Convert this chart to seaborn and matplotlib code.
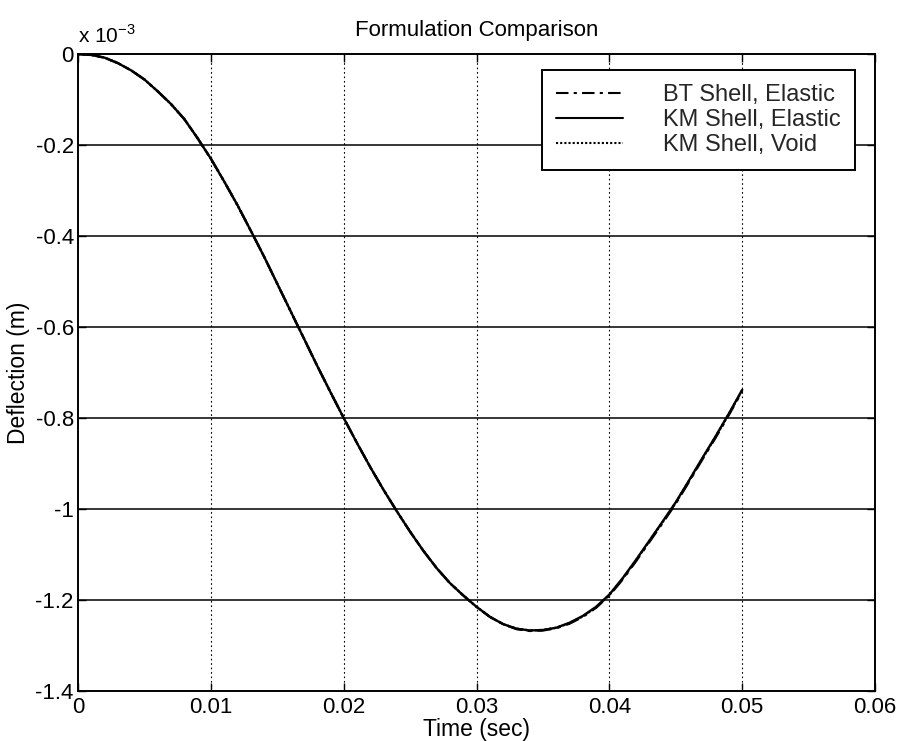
import numpy as np
import pandas as pd
import matplotlib
matplotlib.use("Agg")
import matplotlib.pyplot as plt
import seaborn as sns
from matplotlib.ticker import FixedLocator, FixedFormatter

# ---- data (deflection in units of 1e-3 m) ----
time_s = [0.000, 0.001, 0.002, 0.003, 0.004, 0.005, 0.006, 0.007, 0.008, 0.009,
          0.010, 0.011, 0.012, 0.013, 0.014, 0.015, 0.016, 0.017, 0.018, 0.019,
          0.020, 0.021, 0.022, 0.023, 0.024, 0.025, 0.026, 0.027, 0.028, 0.029,
          0.030, 0.031, 0.032, 0.033, 0.034, 0.035, 0.036, 0.037, 0.038, 0.039,
          0.040, 0.041, 0.042, 0.043, 0.044, 0.045, 0.046, 0.047, 0.048, 0.049,
          0.050]
km_elastic = [0.000, -0.002, -0.008, -0.020, -0.036, -0.056, -0.082, -0.110, -0.143, -0.185,
              -0.230, -0.280, -0.332, -0.388, -0.445, -0.505, -0.565, -0.625, -0.685, -0.743,
              -0.800, -0.855, -0.908, -0.958, -1.005, -1.050, -1.092, -1.130, -1.163, -1.190,
              -1.215, -1.237, -1.253, -1.263, -1.267, -1.266, -1.261, -1.250, -1.235, -1.215,
              -1.188, -1.152, -1.112, -1.070, -1.028, -0.985, -0.937, -0.888, -0.840, -0.790,
              -0.738]
bt_elastic = [0.000, -0.002, -0.008, -0.020, -0.036, -0.056, -0.082, -0.110, -0.143, -0.185,
              -0.230, -0.280, -0.332, -0.388, -0.445, -0.505, -0.565, -0.625, -0.685, -0.743,
              -0.800, -0.855, -0.908, -0.958, -1.005, -1.050, -1.092, -1.130, -1.163, -1.190,
              -1.215, -1.237, -1.253, -1.264, -1.268, -1.267, -1.262, -1.252, -1.237, -1.217,
              -1.190, -1.155, -1.115, -1.073, -1.031, -0.988, -0.940, -0.891, -0.843, -0.793,
              -0.741]
km_void = [0.000, -0.002, -0.008, -0.020, -0.036, -0.056, -0.082, -0.110, -0.143, -0.185,
           -0.230, -0.280, -0.332, -0.388, -0.445, -0.505, -0.565, -0.625, -0.685, -0.743,
           -0.800, -0.855, -0.908, -0.958, -1.005, -1.050, -1.092, -1.130, -1.163, -1.190,
           -1.215, -1.237, -1.253, -1.263, -1.267, -1.266, -1.261, -1.251, -1.236, -1.216,
           -1.189, -1.153, -1.113, -1.071, -1.029, -0.986, -0.938, -0.889, -0.841, -0.791,
           -0.739]
series_names = ["BT Shell, Elastic", "KM Shell, Elastic", "KM Shell, Void"]
x_ticks = [0, 0.01, 0.02, 0.03, 0.04, 0.05, 0.06]
x_tick_labels = ["0", "0.01", "0.02", "0.03", "0.04", "0.05", "0.06"]
y_ticks = [0, -0.2, -0.4, -0.6, -0.8, -1.0, -1.2, -1.4]
y_tick_labels = ["0", "-0.2", "-0.4", "-0.6", "-0.8", "-1", "-1.2", "-1.4"]

sns.set_theme(style="white")
plt.rcParams["font.family"] = ["Liberation Sans", "DejaVu Sans"]
plt.rcParams["mathtext.fontset"] = "custom"
plt.rcParams["mathtext.rm"] = "Liberation Sans"

fig = plt.figure(figsize=(9.04, 7.41), dpi=100)
ax = fig.add_axes([0.0863, 0.0675, 0.8817, 0.8596])

styles = [(0, (6, 2.5, 1.5, 2.5)), "-", (0, (1, 1))]
for name, vals, ls in zip(series_names, [bt_elastic, km_elastic, km_void], styles):
    df = pd.DataFrame({"t": time_s, "d": vals})
    sns.lineplot(data=df, x="t", y="d", ax=ax, color="black", linewidth=1.7,
                 linestyle=ls, label=name, estimator=None, sort=False)

ax.set_xlim(0, 0.06)
ax.set_ylim(-1.4, 0)
ax.xaxis.set_major_locator(FixedLocator(x_ticks))
ax.xaxis.set_major_formatter(FixedFormatter(x_tick_labels))
ax.yaxis.set_major_locator(FixedLocator(y_ticks))
ax.yaxis.set_major_formatter(FixedFormatter(y_tick_labels))

# grid: horizontal solid, vertical dotted
for yv in y_ticks[1:-1]:
    ax.axhline(yv, color="black", linewidth=1.1, zorder=0)
for xv in x_ticks[1:-1]:
    ax.axvline(xv, color="black", linewidth=0.8, linestyle=(0, (1.5, 2.5)), zorder=0)

for sp in ax.spines.values():
    sp.set_color("black")
    sp.set_linewidth(1.4)

ax.tick_params(axis="both", which="major", direction="in", length=6, width=1,
               labelsize=16, colors="black", top=True, right=True,
               bottom=True, left=True)
ax.tick_params(axis="x", pad=4)
ax.tick_params(axis="y", pad=3)

ax.set_xlabel("Time (sec)", fontsize=16.5, color="black", labelpad=0)
ax.set_ylabel("Deflection (m)", fontsize=16.5, color="black", labelpad=4)
ax.set_title("Formulation Comparison", fontsize=16, color="black", pad=13)

ax.text(0.0, 1.012, r"x 10$^{-3}$", transform=ax.transAxes, fontsize=15,
        ha="left", va="bottom", color="black")

leg = ax.legend(loc="upper right", bbox_to_anchor=(0.975, 0.975), fontsize=17,
                frameon=True, fancybox=False, edgecolor="black", handlelength=2.85,
                handletextpad=1.7, borderpad=0.6, labelspacing=0.12,
                borderaxespad=0.0, markerfirst=True)
leg.get_frame().set_linewidth(1.4)
leg.get_frame().set_facecolor("white")
leg.get_frame().set_alpha(1.0)
for line in leg.get_lines():
    line.set_linewidth(1.5)

fig.savefig("out.png", dpi=100, facecolor="white")
